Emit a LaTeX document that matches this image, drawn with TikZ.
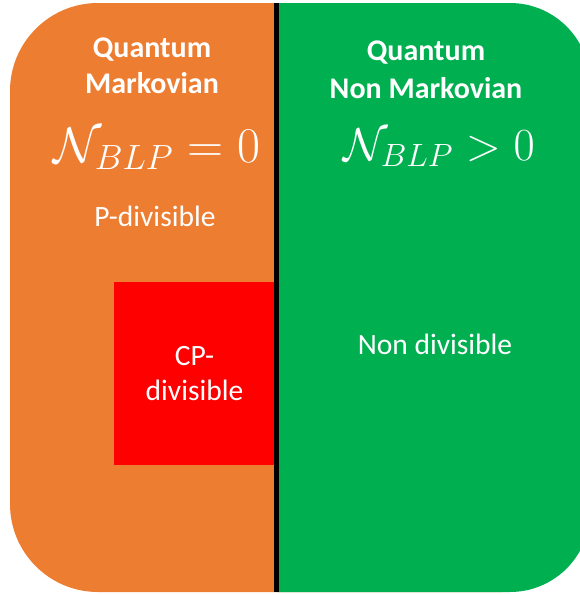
\RequirePackage{fix-cm}
\documentclass[tikz,border=0pt]{standalone}
\usepackage[no-math]{fontspec}
\setmainfont{Carlito}
\usepackage{amsmath}
\usetikzlibrary{positioning}
\definecolor{narancs}{HTML}{ED7D31}
\definecolor{zold}{HTML}{00B050}
\definecolor{piros}{HTML}{FF0000}
\tikzset{
  cim/.style={text=white,font=\bfseries\fontsize{30}{36}\selectfont,align=center,inner sep=0pt},
  kepl/.style={text=white,inner sep=0pt,anchor=base},
  szov/.style={text=white,font=\fontsize{29.5}{35}\selectfont,align=center,inner sep=0pt},
  dob/.style={fill=piros,minimum width=161pt,minimum height=183pt,inner sep=0pt},
}

\begin{document}
\begin{tikzpicture}[x=1pt,y=-1pt]
  \useasboundingbox (0,0) rectangle (580,595);
  % a ket tartomany
  \fill[narancs,rounded corners=88pt] (10,3) rectangle (590,592);
  \begin{scope}
    \clip (277,0) rectangle (580,595);
    \fill[zold,rounded corners=80pt] (150,3) rectangle (590,592);
  \end{scope}
  \node[dob,align=center,text=white,font=\fontsize{29.5}{35}\selectfont] (cp) at (194.5,373.5) {CP-\\divisible};
  \coordinate (fent) at (276,3);
  \coordinate (lent) at (276,592);
  \draw[line width=5pt] (fent) -- (lent);
  % bal oldal
  \node[cim] (qm) at (152,66) {Quantum\\Markovian};
  \node[kepl,font=\fontsize{50}{52}\selectfont] (n0) at (157,162) {$\mathcal{N}_{BLP}=0$};
  \node[szov] (pd) at (155,216) {P-divisible};
  % jobb oldal
  \node[cim,font=\bfseries\fontsize{30}{38}\selectfont] (qnm) at (426,70) {Quantum\\Non Markovian};
  \node[kepl,font=\fontsize{46}{48}\selectfont] (n1) at (439,160) {$\mathcal{N}_{BLP}>0$};
  \node[szov] (nd) at (435,344) {Non divisible};
\end{tikzpicture}
\end{document}
